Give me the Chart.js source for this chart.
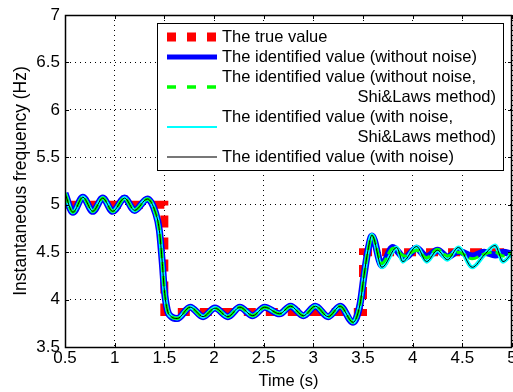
<!DOCTYPE html>
<html>
<head>
<meta charset="utf-8">
<script src="https://cdn.jsdelivr.net/npm/chart.js@4"></script>
<style>
  html, body { margin: 0; padding: 0; background: #fff; }
</style>
</head>
<body>
<canvas id="chart" width="513" height="392"></canvas>
<script>
'use strict';

// true frequency (step changes)
const trueT = [0.5, 1.5, 1.5, 3.5, 3.5, 5];
const trueF = [5, 5, 3.87, 3.87, 4.5, 4.5];

// identified without noise
const cleanT = [0.5, 0.58, 0.68, 0.78, 0.88, 0.98, 1.10, 1.20, 1.33, 1.41, 1.45, 1.48, 1.50, 1.53, 1.57, 1.63,
  1.76, 1.89, 2.01, 2.14, 2.26, 2.39, 2.51, 2.66, 2.77, 2.90, 3.02, 3.15, 3.27, 3.40, 3.47, 3.51, 3.55, 3.59,
  3.69, 3.80, 3.92, 4.04, 4.14, 4.25, 4.35, 4.46, 4.60, 4.72, 4.83, 4.91, 5.0];
const cleanF = [5.12, 4.92, 5.08, 4.93, 5.07, 4.93, 5.07, 4.94, 5.06, 4.92, 4.73, 4.38, 4.10, 3.89, 3.82, 3.80,
  3.92, 3.82, 3.91, 3.82, 3.92, 3.83, 3.92, 3.85, 3.93, 3.83, 3.93, 3.82, 3.93, 3.76, 3.95, 4.25, 4.52, 4.67,
  4.36, 4.55, 4.44, 4.54, 4.45, 4.52, 4.45, 4.51, 4.46, 4.50, 4.47, 4.50, 4.48];
const shiCleanF = [5.12, 4.92, 5.08, 4.93, 5.07, 4.93, 5.07, 4.94, 5.06, 4.92, 4.73, 4.38, 4.10, 3.89, 3.82, 3.80,
  3.92, 3.82, 3.91, 3.82, 3.92, 3.83, 3.92, 3.85, 3.93, 3.83, 3.93, 3.82, 3.93, 3.76, 3.95, 4.25, 4.52, 4.67,
  4.38, 4.54, 4.46, 4.52, 4.44, 4.53, 4.46, 4.50, 4.43, 4.48, 4.50, 4.46, 4.50];

// identified with noise
const noisyT = [0.5, 0.58, 0.68, 0.78, 0.88, 0.98, 1.10, 1.20, 1.33, 1.41, 1.45, 1.48, 1.50, 1.53, 1.57, 1.63,
  1.76, 1.89, 2.01, 2.14, 2.26, 2.39, 2.51, 2.66, 2.77, 2.90, 3.02, 3.15, 3.27, 3.40, 3.47, 3.51, 3.55, 3.59,
  3.69, 3.84, 3.90, 4.04, 4.14, 4.25, 4.35, 4.46, 4.60, 4.72, 4.83, 4.91, 5.0];
const noisyF = [5.12, 4.92, 5.08, 4.93, 5.07, 4.93, 5.07, 4.94, 5.06, 4.92, 4.73, 4.38, 4.10, 3.89, 3.82, 3.80,
  3.92, 3.82, 3.91, 3.82, 3.92, 3.83, 3.92, 3.85, 3.93, 3.83, 3.93, 3.82, 3.93, 3.76, 3.95, 4.25, 4.52, 4.68,
  4.34, 4.55, 4.40, 4.56, 4.40, 4.52, 4.42, 4.55, 4.34, 4.47, 4.57, 4.40, 4.49];
const shiNoisyF = [5.12, 4.92, 5.08, 4.93, 5.07, 4.93, 5.07, 4.94, 5.06, 4.92, 4.73, 4.38, 4.10, 3.89, 3.82, 3.80,
  3.92, 3.82, 3.91, 3.82, 3.92, 3.83, 3.92, 3.85, 3.93, 3.83, 3.93, 3.82, 3.93, 3.76, 3.95, 4.25, 4.52, 4.68,
  4.34, 4.55, 4.40, 4.56, 4.40, 4.52, 4.42, 4.55, 4.34, 4.47, 4.57, 4.40, 4.49];

const seriesLabels = [
  ['The true value'],
  ['The identified value (without noise)'],
  ['The identified value (without noise,', 'Shi&Laws method)'],
  ['The identified value (with noise,', 'Shi&Laws method)'],
  ['The identified value (with noise)']
];

const xTitle = 'Time (s)';
const yTitle = 'Instantaneous frequency (Hz)';
const FONT = '"Liberation Sans", Arial, sans-serif';

function pts(ts, vs) {
  return ts.map((t, i) => ({ x: t, y: vs[i] }));
}

let datasets = [
  { data: pts(trueT, trueF), borderColor: '#ff0000', borderWidth: 8, borderDash: [12, 10], tension: 0, order: 5,
    legendWidth: 9, legendDash: [9, 11] },
  { data: pts(cleanT, cleanF), borderColor: '#0000ff', borderWidth: 7, order: 4,
    legendWidth: 5, legendDash: [] },
  { data: pts(cleanT, shiCleanF), borderColor: '#00ff00', borderWidth: 3, borderDash: [10, 4], order: 2,
    legendWidth: 3.5, legendDash: [9, 11] },
  { data: pts(noisyT, shiNoisyF), borderColor: '#00ffff', borderWidth: 4, order: 3,
    legendWidth: 2, legendDash: [] },
  { data: pts(noisyT, noisyF), borderColor: '#000000', borderWidth: 1, order: 1,
    legendWidth: 2, legendDash: [], legendColor: '#777777' }
];
datasets.forEach((ds, i) => {
  ds.label = seriesLabels[i].join(' ');
  ds.legendLines = seriesLabels[i];
  ds.pointRadius = 0;
  ds.fill = false;
  if (ds.tension === undefined) {
    ds.cubicInterpolationMode = 'monotone';
  }
  ds.borderCapStyle = 'butt';
});

// box round the plot and inward tick marks
const frame = {
  id: 'frame',
  afterDatasetsDraw(chart) {
    const { ctx, chartArea: a } = chart;
    const xs = chart.scales.x, ys = chart.scales.y;
    ctx.save();
    ctx.strokeStyle = '#000';
    ctx.lineWidth = 1;
    ctx.beginPath();
    xs.ticks.forEach(tk => {
      const px = Math.round(xs.getPixelForValue(tk.value)) + 0.5;
      ctx.moveTo(px, a.bottom); ctx.lineTo(px, a.bottom - 4);
      ctx.moveTo(px, a.top); ctx.lineTo(px, a.top + 4);
    });
    ys.ticks.forEach(tk => {
      const py = Math.round(ys.getPixelForValue(tk.value)) + 0.5;
      ctx.moveTo(a.left, py); ctx.lineTo(a.left + 4, py);
      ctx.moveTo(a.right, py); ctx.lineTo(a.right - 4, py);
    });
    ctx.stroke();
    ctx.lineWidth = 1.5;
    ctx.strokeRect(Math.round(a.left) + 0.5, Math.round(a.top) + 0.5,
      Math.round(a.right - a.left) - 1, Math.round(a.bottom - a.top));
    ctx.restore();
  }
};

const legendBox = {
  id: 'legendBox',
  afterDraw(chart) {
    const ctx = chart.ctx;
    ctx.save();
    ctx.fillStyle = '#fff';
    ctx.fillRect(157, 23, 346, 147);
    ctx.strokeStyle = '#000';
    ctx.lineWidth = 1;
    ctx.strokeRect(157.5, 23.5, 346, 147);
    ctx.font = '16.5px ' + FONT;
    ctx.textBaseline = 'middle';
    ctx.fillStyle = '#000';
    let y = 37;
    chart.data.datasets.forEach(ds => {
      const lines = ds.legendLines;
      const sy = y + (lines.length - 1) * 10;
      ctx.save();
      ctx.strokeStyle = ds.legendColor || ds.borderColor;
      ctx.lineWidth = ds.legendWidth;
      ctx.setLineDash(ds.legendDash);
      ctx.beginPath();
      ctx.moveTo(167, sy);
      ctx.lineTo(217, sy);
      ctx.stroke();
      ctx.restore();
      lines.forEach((ln, k) => {
        ctx.textAlign = k === 0 ? 'left' : 'right';
        ctx.fillText(ln, k === 0 ? 222 : 496, y);
        y += 20;
      });
    });
    ctx.restore();
  }
};

const config = {
  type: 'line',
  data: { datasets: datasets },
  options: {
    responsive: false,
    animation: false,
    events: [],
    layout: { padding: { top: 15, right: 1, left: 0, bottom: 0 } },
    plugins: { legend: { display: false }, tooltip: { enabled: false } },
    scales: {
      x: {
        type: 'linear',
        min: 0.5, max: 5,
        ticks: { stepSize: 0.5, color: '#000', font: { family: FONT, size: 17 }, padding: 1, maxRotation: 0, autoSkip: false,
          callback: v => String(v) },
        grid: { color: '#000', lineWidth: 1, drawTicks: false },
        border: { display: false, dash: [1, 4] },
        title: { display: true, text: xTitle, color: '#000', font: { family: FONT, size: 16.5 }, padding: { top: 0, bottom: 1 } },
        afterFit(scale) { scale.height = 45; scale.paddingLeft = 0; scale.paddingRight = 0; }
      },
      y: {
        min: 3.5, max: 7,
        ticks: { stepSize: 0.5, color: '#000', font: { family: FONT, size: 17 }, padding: 5,
          callback: v => String(v) },
        grid: { color: '#000', lineWidth: 1, drawTicks: false },
        border: { display: false, dash: [1, 4] },
        title: { display: true, text: yTitle, color: '#000', font: { family: FONT, size: 17.5 }, padding: { top: 11, bottom: 0 } },
        afterFit(scale) { scale.width = 65; scale.paddingTop = 0; scale.paddingBottom = 0; }
      }
    }
  },
  plugins: [frame, legendBox]
};

let canvasElem = document.getElementById('chart');
new Chart(canvasElem, config);
</script>
</body>
</html>
